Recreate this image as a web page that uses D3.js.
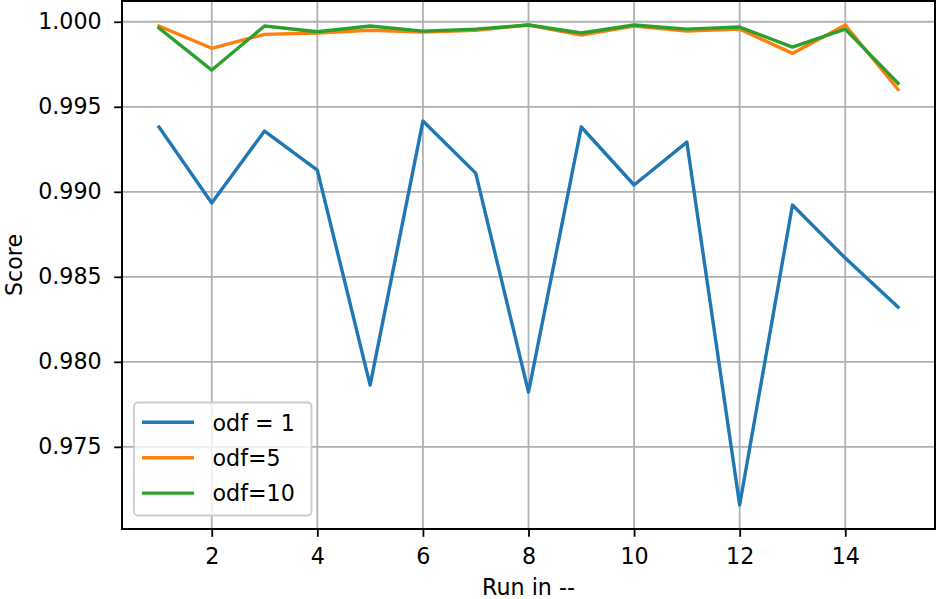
<!DOCTYPE html>
<html>
<head>
<meta charset="utf-8">
<script src="https://cdn.jsdelivr.net/npm/d3@7"></script>
<style>
  body { margin: 0; background: #fff; }
  svg { display: block; }
  text { font-family: "DejaVu Sans", sans-serif; }
</style>
</head>
<body>
<svg id="chart" width="936" height="599"></svg>
<script>
const runs = [1,2,3,4,5,6,7,8,9,10,11,12,13,14,15];
const odf1  = [0.99381,0.98934,0.99357,0.99128,0.97863,0.99416,0.99110,0.97822,0.99381,0.99040,0.99292,0.97158,0.98922,0.98610,0.98322];
const odf5  = [0.99975,0.99844,0.99926,0.99934,0.99950,0.99939,0.99950,0.99981,0.99922,0.99975,0.99945,0.99957,0.99814,0.99981,0.99602];
const odf10 = [0.99963,0.99716,0.99975,0.99941,0.99975,0.99945,0.99957,0.99981,0.99934,0.99981,0.99957,0.99969,0.99851,0.99957,0.99638];
const seriesNames = ["odf = 1", "odf=5", "odf=10"];
const seriesColors = ["#1f77b4", "#ff7f0e", "#2ca02c"];
const xTicks = [2,4,6,8,10,12,14];
const yTicks = [0.975,0.980,0.985,0.990,0.995,1.000];

const series = [odf1, odf5, odf10];
const FS = "22.2px";

const svg = d3.select("#chart");
const L = 122, R = 935, T = 1, B = 529;

const allVals = series.flat();
const ymin = d3.min(allVals), ymax = d3.max(allVals);
const ypad = (ymax - ymin) * 0.05;
const xpad = (d3.max(runs) - d3.min(runs)) * 0.05;

const x = d3.scaleLinear().domain([d3.min(runs) - xpad, d3.max(runs) + xpad]).range([L, R]);
const y = d3.scaleLinear().domain([ymin - ypad, ymax + ypad]).range([B, T]);

// grid
const grid = svg.append("g");
xTicks.forEach(t => grid.append("line")
  .attr("x1", x(t)).attr("x2", x(t)).attr("y1", T).attr("y2", B)
  .attr("stroke", "#b0b0b0").attr("stroke-width", 1.8));
yTicks.forEach(t => grid.append("line")
  .attr("x1", L).attr("x2", R).attr("y1", y(t)).attr("y2", y(t))
  .attr("stroke", "#b0b0b0").attr("stroke-width", 1.8));

// lines
const line = d3.line().x((d, i) => x(runs[i])).y(d => y(d));
series.forEach((s, k) => {
  svg.append("path").datum(s)
    .attr("d", line)
    .attr("fill", "none")
    .attr("stroke", seriesColors[k])
    .attr("stroke-width", 3.4)
    .attr("stroke-linejoin", "round")
    .attr("stroke-linecap", "square");
});

// axes
const xAxis = d3.axisBottom(x).tickValues(xTicks).tickFormat(d3.format("d")).tickSize(7.8).tickPadding(11);
const yAxis = d3.axisLeft(y).tickValues(yTicks).tickFormat(d3.format(".3f")).tickSize(7.8).tickPadding(12.5);

const gx = svg.append("g").attr("transform", `translate(0,${B})`).call(xAxis);
const gy = svg.append("g").attr("transform", `translate(${L},0)`).call(yAxis);
[gx, gy].forEach(g => {
  g.select(".domain").remove();
  g.selectAll(".tick line").attr("stroke", "#000").attr("stroke-width", 1.8);
  g.selectAll(".tick text").attr("fill", "#000").style("font-size", FS).style("font-family", "DejaVu Sans");
});

// frame
svg.append("rect").attr("x", L).attr("y", T).attr("width", R - L).attr("height", B - T)
  .attr("fill", "none").attr("stroke", "#000").attr("stroke-width", 2);

// axis labels
svg.append("text").attr("x", (L + R) / 2).attr("y", 595)
  .attr("text-anchor", "middle").style("font-size", FS).text("Run in --");
svg.append("text").attr("transform", `translate(21.5,${(T + B) / 2}) rotate(-90)`)
  .attr("text-anchor", "middle").style("font-size", FS).text("Score");

// legend
const lg = svg.append("g");
lg.append("rect").attr("x", 134).attr("y", 402.5).attr("width", 177.5).attr("height", 113)
  .attr("rx", 4).attr("fill", "#fff").attr("fill-opacity", 0.8)
  .attr("stroke", "#cccccc").attr("stroke-width", 1.8);
seriesNames.forEach((n, k) => {
  const yy = 422.3 + k * 35.4;
  lg.append("line").attr("x1", 142).attr("x2", 194).attr("y1", yy).attr("y2", yy)
    .attr("stroke", seriesColors[k]).attr("stroke-width", 3.4);
  lg.append("text").attr("x", 212.5).attr("y", yy + 8.3).style("font-size", FS).text(n);
});
</script>
</body>
</html>
